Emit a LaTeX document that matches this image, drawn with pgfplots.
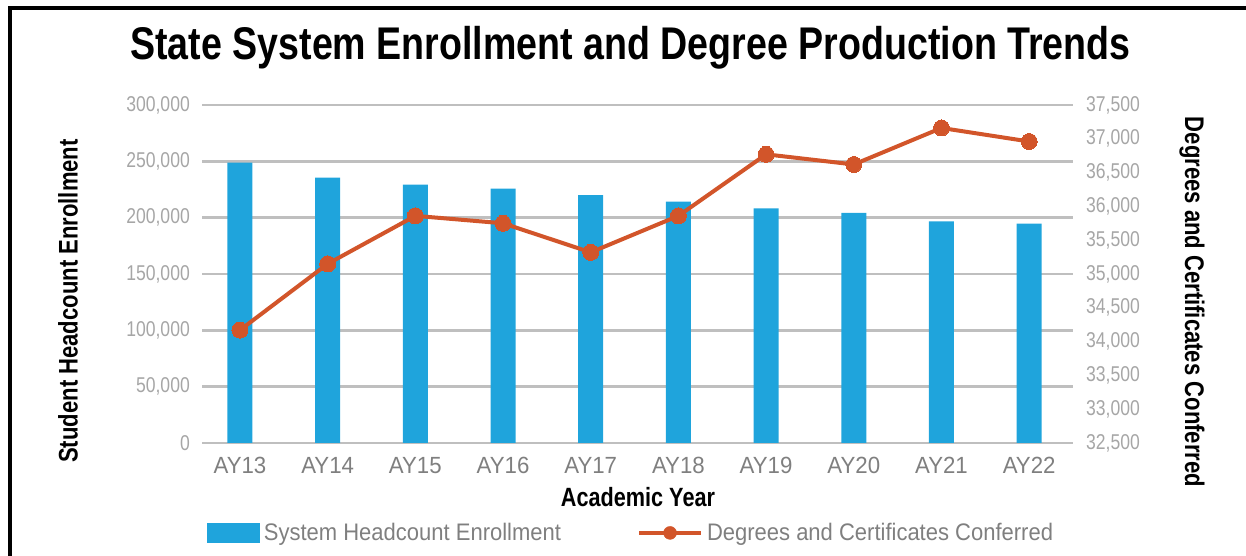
\documentclass[border=0pt]{standalone}
\usepackage{pgfplots}
\pgfplotsset{compat=1.18}
\usepackage{pgfplotstable}
\usepackage{fontspec}
\setmainfont{Liberation Sans}[FakeStretch=0.92]
\newfontfamily\narrow{Liberation Sans}[FakeStretch=0.82]
\newfontfamily\wide{Liberation Sans}[FakeStretch=0.95]
\definecolor{barblue}{HTML}{1FA4DC}
\definecolor{lineorange}{HTML}{D2552A}
\definecolor{gridgray}{HTML}{BFBFBF}
\definecolor{ticklight}{HTML}{A6A6A6}
\definecolor{tickdark}{HTML}{7F7F7F}

\pgfplotstableread{
x enroll degrees
0 248800 34170
1 235500 35150
2 229300 35860
3 225800 35750
4 219900 35320
5 214300 35860
6 208300 36770
7 204200 36620
8 196800 37160
9 194800 36960
}\datatable

\begin{document}
\begin{tikzpicture}[x=1bp,y=1bp]
\useasboundingbox (0,0) rectangle (1246,556);
\draw[line width=3.5bp] (10,0) -- (10,548) -- (1246,548);
\node[anchor=base, inner sep=0, font=\narrow\bfseries\fontsize{46}{55}\selectfont] at (630.5,496) {State System Enrollment and Degree Production Trends};

\begin{axis}[
  at={(202bp,113bp)}, anchor=south west, scale only axis,
  width=871bp, height=338bp,
  xmin=-0.433, xmax=9.5, ymin=0, ymax=300000,
  xtick={0,...,9},
  xticklabels={AY13,AY14,AY15,AY16,AY17,AY18,AY19,AY20,AY21,AY22},
  ytick={0,50000,...,300000},
  scaled ticks=false,
  ymajorgrids, grid style={gridgray, line width=2.5bp},
  axis line style={draw=none}, major tick length=0,
  /pgf/number format/.cd, fixed, precision=0, 1000 sep={,}, assume math mode=true, /pgfplots/.cd,
  xticklabel style={font=\wide\fontsize{23.5}{28}\selectfont, text=tickdark, inner sep=0, yshift=-14bp},
  yticklabel style={font=\narrow\fontsize{21.5}{25}\selectfont, text=ticklight, inner sep=0, xshift=-12bp},
  legend style={at={(axis description cs:0.002,-0.266)}, anchor=west, draw=none, fill=none,
    legend columns=2, font=\fontsize{24}{28}\selectfont, text=tickdark,
    /tikz/every even column/.append style={column sep=72bp},
    nodes={inner xsep=4bp, inner ysep=0bp}},
]
\addplot[ybar, bar width=25bp, fill=barblue, draw=none,
  legend image code/.code={\fill[barblue] (0bp,-10bp) rectangle (53bp,10bp);}]
  table[x=x,y=enroll]{\datatable};
\addlegendentry{System Headcount Enrollment}
\addlegendimage{legend image code/.code={\draw[lineorange, line width=4bp] (0bp,0bp) -- (62bp,0bp); \fill[lineorange] (31bp,0bp) circle (6.5bp);}}
\addlegendentry{Degrees and Certificates Conferred}
\end{axis}

\begin{axis}[
  at={(202bp,113bp)}, anchor=south west, scale only axis,
  width=871bp, height=338bp,
  xmin=-0.433, xmax=9.5, ymin=32500, ymax=37500,
  axis x line=none, axis y line*=right,
  ytick={32500,33000,...,37500},
  scaled ticks=false,
  axis line style={draw=none}, major tick length=0,
  /pgf/number format/.cd, fixed, precision=0, 1000 sep={,}, assume math mode=true, /pgfplots/.cd,
  yticklabel style={font=\narrow\fontsize{21.5}{25}\selectfont, text=ticklight, inner sep=0, anchor=west, xshift=13bp},
]
\addplot[lineorange, line width=4bp, mark=*, mark size=8bp, mark options={fill=lineorange, draw=lineorange, line width=0pt}]
  table[x=x,y=degrees]{\datatable};
\end{axis}

\node[rotate=90, font=\narrow\bfseries\fontsize{27}{32}\selectfont] at (68,255) {Student Headcount Enrollment};
\node[rotate=-90, font=\narrow\bfseries\fontsize{27}{32}\selectfont] at (1192,254) {Degrees and Certificates Conferred};
\node[font=\narrow\bfseries\fontsize{26.5}{32}\selectfont] at (638,59) {Academic Year};
\end{tikzpicture}
\end{document}
